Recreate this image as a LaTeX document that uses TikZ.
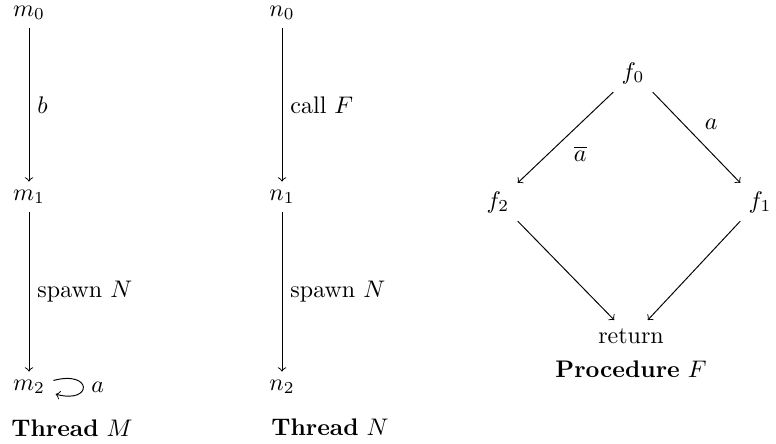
\documentclass[tikz,border=0pt]{standalone}
\begin{document}
\begin{tikzpicture}[x=0.41667pt,y=-0.41667pt,>=to,
  st/.style={},
  ttl/.style={}]
\useasboundingbox (0,0) rectangle (776,443);
% Thread M
\node[st] (m0) at (29,13) {$m_0$};
\node[st] (m1) at (29,197) {$m_1$};
\node[st] (m2) at (29,387) {$m_2$};
\draw[->] (m0) -- node[right] {$b$} (m1);
\draw[->] (m1) -- node[right] {spawn $N$} (m2);
\path (m2) edge[->,loop right] node {$a$} ();
\node[ttl] (tm) at (72,428) {\textbf{Thread} $M$};
% Thread N
\node[st] (n0) at (282,13) {$n_0$};
\node[st] (n1) at (282,197) {$n_1$};
\node[st] (n2) at (282,387) {$n_2$};
\draw[->] (n0) -- node[right] {call $F$} (n1);
\draw[->] (n1) -- node[right] {spawn $N$} (n2);
\node[ttl] (tn) at (330,427) {\textbf{Thread} $N$};
% Procedure F
\node[st] (f0) at (633,73) {$f_0$};
\node[st] (f2) at (498,202) {$f_2$};
\node[st] (f1) at (760,202) {$f_1$};
\node[st] (ret) at (631,336) {return};
\node[ttl] (pf) at (631,369) {\textbf{Procedure} $F$};
\draw[->] (f0.south west) -- node[below right] {$\overline{a}$} (f2.north east);
\draw[->] (f0.south east) -- node[above right] {$a$} (f1.north west);
\draw[->] (f2.south east) -- ([xshift=-7pt]ret.north);
\draw[->] (f1.south west) -- ([xshift=7pt]ret.north);
\end{tikzpicture}
\end{document}
